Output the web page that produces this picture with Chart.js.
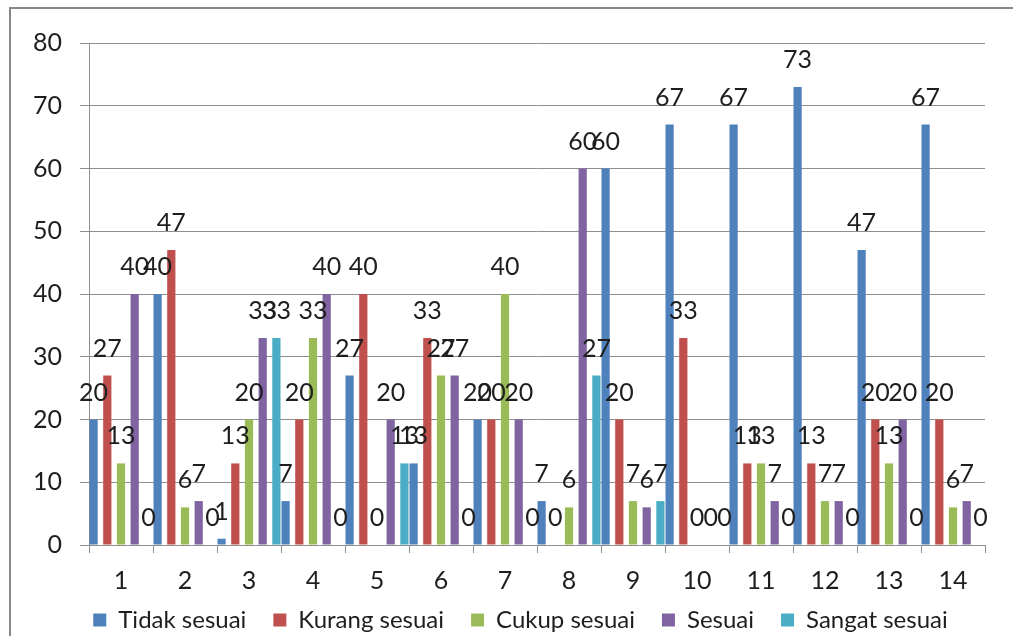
<!DOCTYPE html>
<html>
<head>
<meta charset="utf-8">
<script src="https://cdn.jsdelivr.net/npm/chart.js@4/dist/chart.umd.min.js"></script>
<style>
  html, body { margin: 0; padding: 0; background: #fff; }
  #wrap { width: 1013px; height: 636px; position: relative; }
</style>
</head>
<body>
<div id="wrap"><canvas id="chart"></canvas></div>
<script>
'use strict';

const categories = ['1', '2', '3', '4', '5', '6', '7', '8', '9', '10', '11', '12', '13', '14'];
const tidakSesuai  = [20, 40, 1, 7, 27, 13, 20, 7, 60, 67, 67, 73, 47, 67];
const kurangSesuai = [27, 47, 13, 20, 40, 33, 20, 0, 20, 33, 13, 13, 20, 20];
const cukupSesuai  = [13, 6, 20, 33, 0, 27, 40, 6, 7, 0, 13, 7, 13, 6];
const sesuai       = [40, 7, 33, 40, 20, 27, 20, 60, 6, 0, 7, 7, 20, 7];
const sangatSesuai = [0, 0, 33, 0, 13, 0, 0, 27, 7, 0, 0, 0, 0, 0];

const FONT = 'Lato';
const TEXT = '#1e1e1e';
const GRID = '#8e8e8e';

// outer frame of the chart object (only top and left visible)
const framePlugin = {
  id: 'frame',
  beforeDraw(chart) {
    const ctx = chart.ctx;
    ctx.save();
    ctx.strokeStyle = '#888';
    ctx.lineWidth = 2;
    ctx.beginPath();
    ctx.moveTo(10, chart.height);
    ctx.lineTo(10, 8);
    ctx.lineTo(chart.width, 8);
    ctx.stroke();
    ctx.restore();
  }
};

// move the legend row to where the original has it
const legendShift = {
  id: 'legendShift',
  afterLayout(chart) {
    const lg = chart.legend;
    const h = lg.bottom - lg.top;
    lg.top = 581;
    lg.bottom = 581 + h;
    lg.left += 28;
    lg.right += 28;
  }
};

// value labels above every bar
const valueLabels = {
  id: 'valueLabels',
  afterDatasetsDraw(chart) {
    const ctx = chart.ctx;
    ctx.save();
    ctx.font = '25px ' + FONT;
    ctx.fillStyle = TEXT;
    ctx.textAlign = 'center';
    ctx.textBaseline = 'alphabetic';
    chart.data.datasets.forEach((ds, i) => {
      chart.getDatasetMeta(i).data.forEach((bar, j) => {
        ctx.fillText(String(ds.data[j]), bar.x, bar.y - 19);
      });
    });
    ctx.restore();
  }
};

const ds = (label, data, color) => ({
  label: label,
  data: data,
  backgroundColor: color,
  borderWidth: 0,
  categoryPercentage: 1.07,
  barPercentage: 0.6
});

new Chart(document.getElementById('chart'), {
  type: 'bar',
  data: {
    labels: categories,
    datasets: [
      ds('Tidak sesuai', tidakSesuai, '#4f81bd'),
      ds('Kurang sesuai', kurangSesuai, '#c0504d'),
      ds('Cukup sesuai', cukupSesuai, '#9bbb59'),
      ds('Sesuai', sesuai, '#8064a2'),
      ds('Sangat sesuai', sangatSesuai, '#4bacc6')
    ]
  },
  options: {
    animation: false,
    responsive: true,
    maintainAspectRatio: false,
    layout: { padding: { left: 0, right: 28, top: 43, bottom: -20 } },
    scales: {
      x: {
        grid: { color: GRID, drawOnChartArea: false, tickLength: 8, offset: true },
        border: { color: GRID },
        ticks: { color: TEXT, font: { family: FONT, size: 25 }, padding: 13, maxRotation: 0 },
        afterFit(scale) { scale.height = 50; }
      },
      y: {
        min: 0,
        max: 80,
        ticks: { stepSize: 10, color: TEXT, font: { family: FONT, size: 25 }, padding: 18 },
        grid: { color: GRID, tickLength: 9 },
        border: { color: GRID },
        afterFit(scale) { scale.width = 89; }
      }
    },
    plugins: {
      legend: {
        position: 'bottom',
        labels: {
          color: TEXT,
          font: { family: FONT, size: 24 },
          boxWidth: 13,
          boxHeight: 13,
          padding: 27
        }
      },
      tooltip: { enabled: false }
    }
  },
  plugins: [framePlugin, legendShift, valueLabels]
});
</script>
</body>
</html>
